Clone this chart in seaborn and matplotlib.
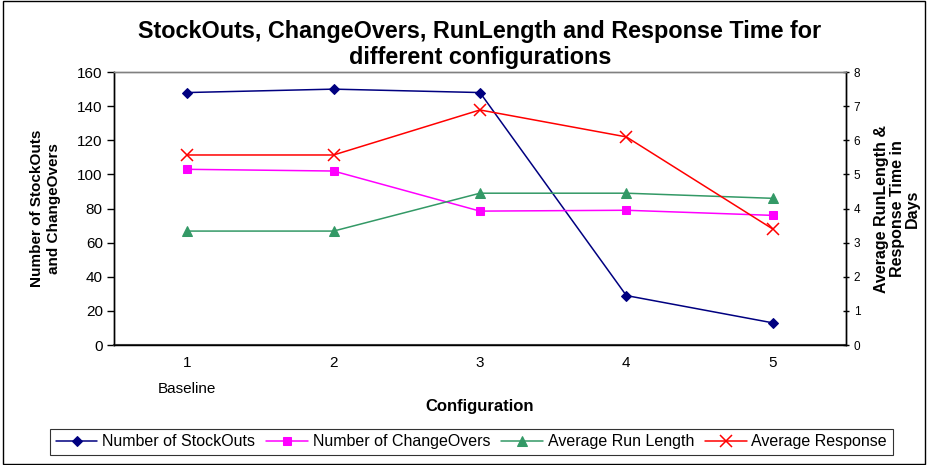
import numpy as np
import pandas as pd
import matplotlib
matplotlib.use("Agg")
import matplotlib.pyplot as plt
import seaborn as sns
from matplotlib.patches import Rectangle

configs = ["1\nBaseline", "2", "3", "4", "5"]
stockouts = [148, 150, 148, 29, 13]
changeovers = [103, 102, 78.5, 79, 76]
run_length = [3.34, 3.34, 4.45, 4.45, 4.3]
response = [5.57, 5.57, 6.89, 6.1, 3.4]

sns.set_theme(style="white")
plt.rcParams["font.family"] = ["Liberation Sans", "DejaVu Sans"]
plt.rcParams["text.color"] = "black"
plt.rcParams["axes.labelcolor"] = "black"
plt.rcParams["xtick.color"] = "black"
plt.rcParams["ytick.color"] = "black"

pos = np.arange(len(configs))
df = pd.DataFrame({"pos": pos, "stockouts": stockouts, "changeovers": changeovers,
                   "run_length": run_length, "response": response})

fig = plt.figure(figsize=(9.28, 4.65), dpi=100)
ax = fig.add_axes([0.1228, 0.258, 0.7888, 0.587])
ax2 = ax.twinx()

sns.lineplot(data=df, x="pos", y="stockouts", ax=ax, color="#000080", marker="D",
             markersize=5, markeredgecolor="#000080", linewidth=1.1, label="Number of StockOuts", legend=False)
sns.lineplot(data=df, x="pos", y="changeovers", ax=ax, color="#FF00FF", marker="s",
             markersize=6, markeredgecolor="#FF00FF", linewidth=1.1, label="Number of ChangeOvers", legend=False)
sns.lineplot(data=df, x="pos", y="run_length", ax=ax2, color="#339966", marker="^",
             markersize=6.5, markeredgecolor="#339966", linewidth=1.1, label="Average Run Length", legend=False)
sns.lineplot(data=df, x="pos", y="response", ax=ax2, color="#FF0000", marker="x",
             markersize=9, markeredgecolor="#FF0000", markeredgewidth=1.1, linewidth=1.1,
             label="Average Response", legend=False)

ax.set_xlim(-0.5, 4.5)
ax.set_ylim(0, 160)
ax2.set_ylim(0, 8)
ax.set_yticks(np.arange(0, 161, 20))
ax2.set_yticks(np.arange(0, 9, 1))
ax.set_xticks(pos)
ax.set_xticklabels(configs, fontsize=11)
ax.set_xticks(np.arange(-0.5, 4.6, 1), minor=True)
ax.tick_params(axis="x", which="major", length=0, pad=8)
ax.tick_params(axis="x", which="minor", length=5, width=1, color="black", direction="out")
ax.tick_params(axis="y", labelsize=11, length=5, width=1, color="black", direction="out", left=True, pad=3)
ax2.tick_params(axis="y", labelsize=8.5, length=5, width=1, color="black", direction="inout", right=True, pad=3)
for label in ax.get_xticklabels():
    label.set_linespacing(2.1)

ax.set_xlabel("Configuration", fontsize=12, fontweight="bold", labelpad=2)
ax.set_ylabel("Number of StockOuts\nand ChangeOvers", fontsize=11, fontweight="bold", labelpad=12)
ax2.set_ylabel("Average RunLength &\nResponse Time in\nDays", fontsize=11.5, fontweight="bold",
               labelpad=10, linespacing=1.05)

for a in (ax, ax2):
    for s in a.spines.values():
        s.set_color("black")
        s.set_linewidth(1)
    a.spines["top"].set_color("#808080")
ax.spines["bottom"].set_color("#404040")
ax.spines["bottom"].set_linewidth(1.5)

ax.set_title("StockOuts, ChangeOvers, RunLength and Response Time for\ndifferent configurations",
             fontsize=16.8, fontweight="bold", pad=6, linespacing=1.15)

h1, l1 = ax.get_legend_handles_labels()
h2, l2 = ax2.get_legend_handles_labels()
leg = fig.legend(h1 + h2, l1 + l2, loc="lower center", bbox_to_anchor=(0.508, 0.005), ncol=4,
                 fontsize=11.5, frameon=True, fancybox=False, edgecolor="black",
                 handlelength=2.6, columnspacing=0.7, handletextpad=0.3, borderpad=0.35)
leg.get_frame().set_linewidth(0.8)

fig.patches.append(Rectangle((0.003, 0.003), 0.994, 0.994, transform=fig.transFigure,
                             fill=False, edgecolor="black", linewidth=1))

fig.savefig("out.png", dpi=100)
